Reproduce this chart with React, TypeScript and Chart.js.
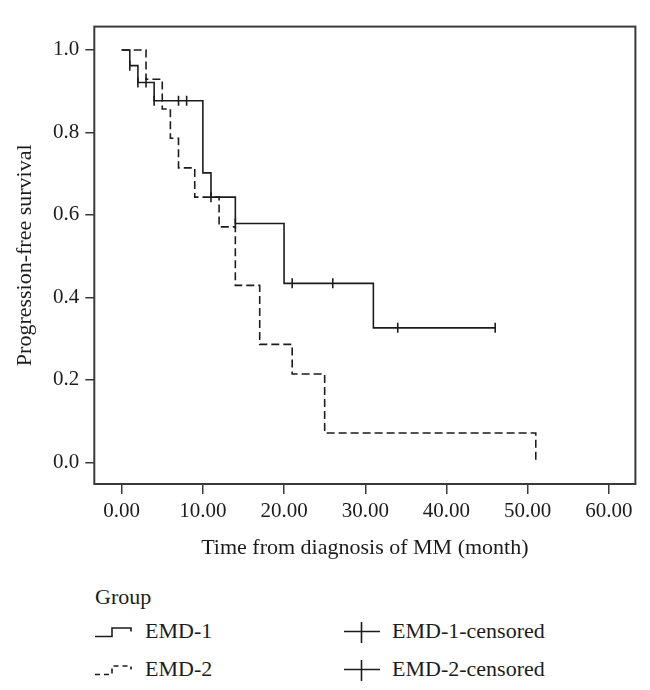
import React, { useEffect, useRef } from "react";
import { Chart, registerables } from "chart.js";

Chart.register(...registerables);

// ---- data ----
const xTickValues = [0, 10, 20, 30, 40, 50, 60];
const yTickValues = [0, 0.2, 0.4, 0.6, 0.8, 1.0];

const emd1Times = [0, 1, 2, 4, 10, 11, 14, 20, 31, 46];
const emd1Survival = [1, 0.962, 0.921, 0.877, 0.702, 0.643, 0.579, 0.434, 0.326, 0.326];
const emd1CensorTimes = [1, 2, 3, 4, 7, 8, 11, 14, 21, 26, 34, 46];
const emd1CensorSurvival = [0.962, 0.921, 0.921, 0.877, 0.877, 0.877, 0.643, 0.579, 0.434, 0.434, 0.326, 0.326];

const emd2Times = [0, 3, 5, 6, 7, 9, 12, 14, 17, 21, 25, 51];
const emd2Survival = [1, 0.929, 0.857, 0.786, 0.714, 0.643, 0.571, 0.429, 0.286, 0.214, 0.071, 0];
const emd2CensorTimes: number[] = [];
const emd2CensorSurvival: number[] = [];

const xTitle = "Time from diagnosis of MM (month)";
const yTitle = "Progression-free survival";
const legendTitle = "Group";
const seriesNames = ["EMD-1", "EMD-2", "EMD-1-censored", "EMD-2-censored"];

const FONT = '"Liberation Serif", "DejaVu Serif", serif';
const INK = "#1c1c1c";
const BOX = "#3a3a3a";

const pts = (xs: number[], ys: number[]) => xs.map((x, i) => ({ x, y: ys[i] }));

const boxPlugin = {
  id: "boxPlugin",
  afterDraw(chart: any) {
    const { ctx, chartArea } = chart;
    ctx.save();
    ctx.strokeStyle = BOX;
    ctx.lineWidth = 2;
    ctx.strokeRect(chartArea.left, chartArea.top, chartArea.right - chartArea.left, chartArea.bottom - chartArea.top);
    ctx.restore();
  },
};

export default function App() {
  const ref = useRef<HTMLCanvasElement | null>(null);

  useEffect(() => {
    if (!ref.current) return;
    const chart = new Chart(ref.current, {
      type: "line",
      data: {
        datasets: [
          {
            label: seriesNames[0],
            data: pts(emd1Times, emd1Survival),
            stepped: "before",
            borderColor: INK,
            borderWidth: 1.6,
            pointRadius: 0,
            fill: false,
          },
          {
            label: seriesNames[1],
            data: pts(emd2Times, emd2Survival),
            stepped: "before",
            borderColor: INK,
            borderWidth: 1.6,
            borderDash: [8, 4],
            pointRadius: 0,
            fill: false,
          },
          {
            label: seriesNames[2],
            data: pts(emd1CensorTimes, emd1CensorSurvival),
            showLine: false,
            pointStyle: "line",
            rotation: 90,
            pointRadius: 5,
            borderColor: INK,
            borderWidth: 1.6,
          },
          {
            label: seriesNames[3],
            data: pts(emd2CensorTimes, emd2CensorSurvival),
            showLine: false,
            pointStyle: "line",
            rotation: 90,
            pointRadius: 5,
            borderColor: INK,
            borderWidth: 1.6,
          },
        ] as any,
      },
      options: {
        animation: false,
        responsive: false,
        maintainAspectRatio: false,
        layout: { padding: { left: 0, top: 6, right: 6.5, bottom: 0 } },
        plugins: { legend: { display: false }, tooltip: { enabled: false } },
        scales: {
          x: {
            type: "linear",
            min: -3.37,
            max: 63.27,
            afterBuildTicks: (s: any) => {
              s.ticks = xTickValues.map((v) => ({ value: v }));
            },
            afterFit: (s: any) => {
              s.height = 84;
            },
            border: { display: false },
            grid: { drawOnChartArea: false, drawTicks: true, tickLength: 10, color: BOX, lineWidth: 1.5 },
            ticks: {
              padding: 5,
              color: INK,
              font: { family: FONT, size: 21 },
              callback: (v: any) => Number(v).toFixed(2),
              maxRotation: 0,
              autoSkip: false,
            },
            title: { display: true, text: xTitle, color: INK, font: { family: FONT, size: 22 }, padding: { top: 0, bottom: 7 } },
          },
          y: {
            type: "linear",
            min: -0.0527,
            max: 1.0567,
            afterBuildTicks: (s: any) => {
              s.ticks = yTickValues.map((v) => ({ value: v }));
            },
            afterFit: (s: any) => {
              s.width = 86.3;
            },
            border: { display: false },
            grid: { drawOnChartArea: false, drawTicks: true, tickLength: 9, color: BOX, lineWidth: 1.5 },
            ticks: {
              padding: 6,
              color: INK,
              font: { family: FONT, size: 21 },
              callback: (v: any) => Number(v).toFixed(1),
              autoSkip: false,
            },
            title: { display: true, text: yTitle, color: INK, font: { family: FONT, size: 22 }, padding: { top: 4, bottom: 0 } },
          },
        },
      },
      plugins: [boxPlugin],
    } as any);
    return () => chart.destroy();
  }, []);

  const textStyle: React.CSSProperties = {
    position: "absolute",
    fontFamily: FONT,
    fontSize: 22,
    lineHeight: "25px",
    color: INK,
    whiteSpace: "nowrap",
  };

  return (
    <div style={{ position: "relative", width: 634, height: 674 }}>
      <canvas ref={ref} width={634} height={560} style={{ display: "block" }} />
      <div style={{ ...textStyle, left: 87, top: 576 }}>{legendTitle}</div>

      <svg style={{ position: "absolute", left: 86, top: 613 }} width={40} height={20}>
        <path d="M1,15.5 L18,15.5 L18,7 L37,7 L37,10.5" fill="none" stroke={INK} strokeWidth={1.6} />
      </svg>
      <div style={{ ...textStyle, left: 137, top: 610 }}>{seriesNames[0]}</div>

      <svg style={{ position: "absolute", left: 86, top: 651 }} width={40} height={20}>
        <path d="M1,15.5 L18,15.5 L18,7 L37,7 L37,10.5" fill="none" stroke={INK} strokeWidth={1.6} strokeDasharray="5 4" />
      </svg>
      <div style={{ ...textStyle, left: 137, top: 648 }}>{seriesNames[1]}</div>

      <svg style={{ position: "absolute", left: 335, top: 613 }} width={38} height={24}>
        <path d="M1,10.5 L37,10.5 M18.5,1 L18.5,22" fill="none" stroke={INK} strokeWidth={1.6} />
      </svg>
      <div style={{ ...textStyle, left: 384, top: 610 }}>{seriesNames[2]}</div>

      <svg style={{ position: "absolute", left: 335, top: 651 }} width={38} height={24}>
        <path d="M1,10.5 L37,10.5 M18.5,1 L18.5,22" fill="none" stroke={INK} strokeWidth={1.6} />
      </svg>
      <div style={{ ...textStyle, left: 384, top: 648 }}>{seriesNames[3]}</div>
    </div>
  );
}
